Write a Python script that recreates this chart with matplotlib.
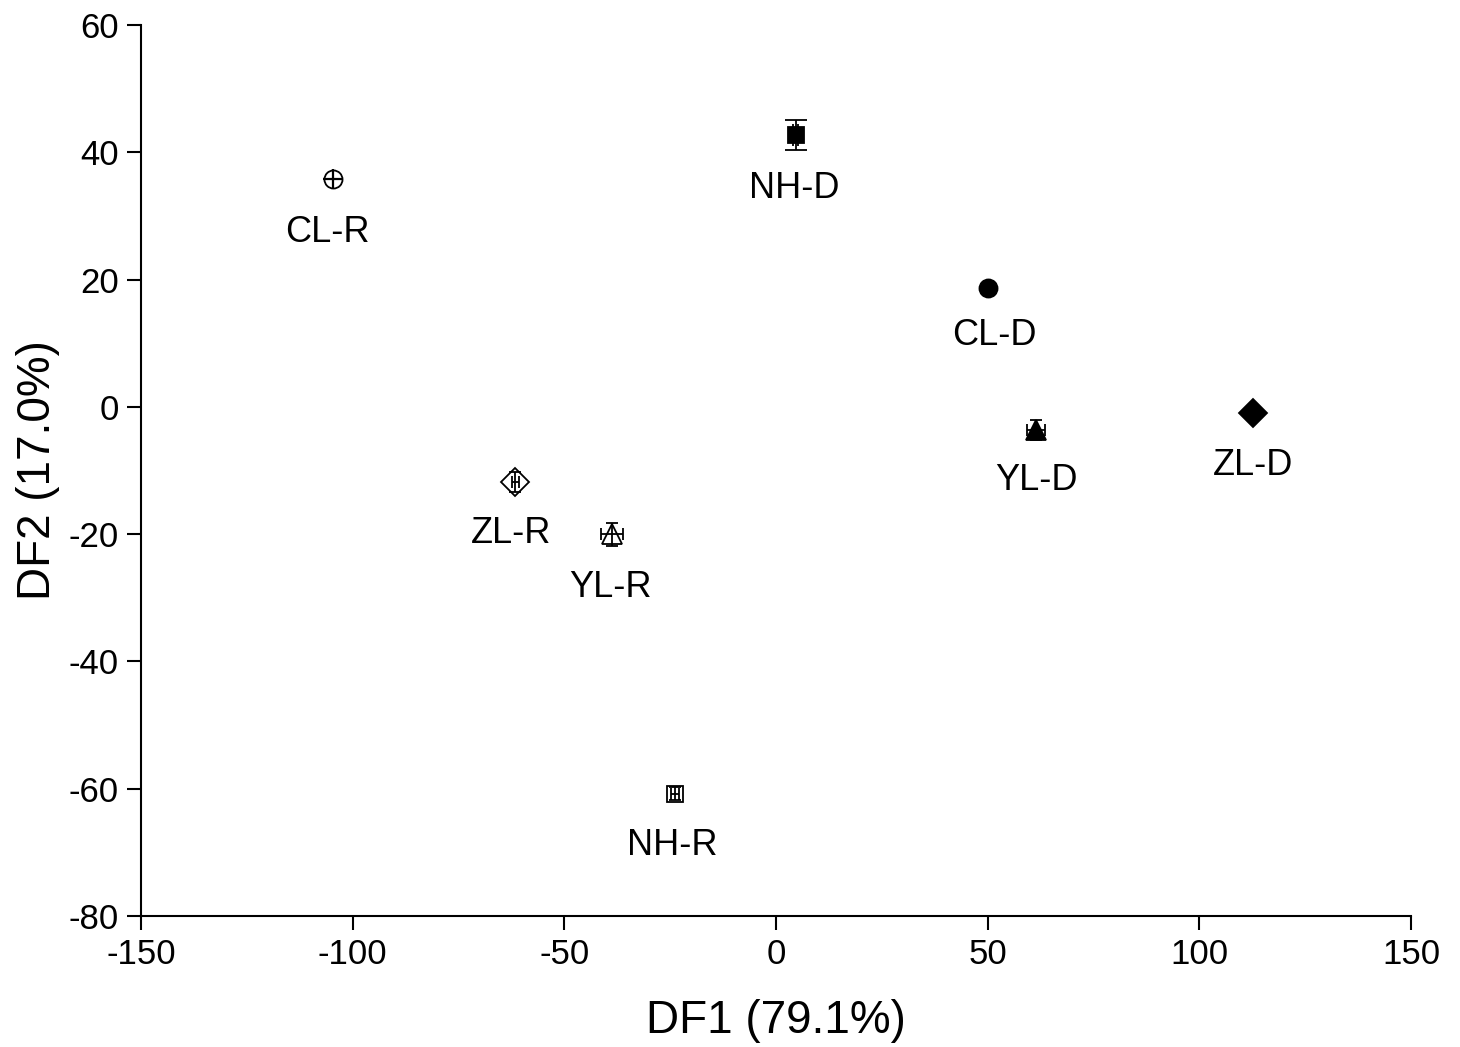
import matplotlib
matplotlib.use("Agg")
import matplotlib.pyplot as plt

plt.rcParams['font.family'] = ['Liberation Sans', 'DejaVu Sans']
plt.rcParams['axes.unicode_minus'] = False

labels = ["CL-R", "NH-D", "ZL-R", "YL-R", "NH-R", "CL-D", "YL-D", "ZL-D"]
df1 = [-104.6, 4.7, -61.6, -38.7, -23.9, 50.1, 61.4, 112.7]
df2 = [35.8, 42.7, -11.8, -20.0, -60.8, 18.7, -3.6, -1.0]
xerr = [0.0, 0.6, 0.8, 2.6, 1.0, 0.3, 2.2, 0.3]
yerr = [0.0, 2.3, 1.6, 1.8, 1.0, 0.3, 1.6, 0.3]
markers = ["o", "s", "D", "^", "s", "o", "^", "D"]
filled = [False, True, False, False, False, True, True, True]
msizes = [13, 12, 14, 15, 12, 13, 15, 14]
label_dx = [-6, -2, -4, -2, -3, 6, 1, 0]   # pixels
label_dy = [-53, -53, -52, -53, -52, -48, -51, -52]

fig = plt.figure(figsize=(14.6, 10.47), dpi=100)
ax = fig.add_axes([0.0966, 0.1251, 0.8698, 0.8510])

for i in range(len(labels)):
    fc = 'black' if filled[i] else 'none'
    ax.errorbar(df1[i], df2[i], xerr=xerr[i] if xerr[i] > 0 else None,
                yerr=yerr[i] if yerr[i] > 0 else None,
                fmt=markers[i], ms=msizes[i], mfc=fc, mec='black', mew=1.3,
                ecolor='black', elinewidth=1.3, capsize=8 if i == 1 else 4,
                capthick=1.3, zorder=3)
    if labels[i] == "CL-R":
        ax.plot(df1[i], df2[i], marker='+', ms=msizes[i] + 1, mew=1.6,
                color='black', zorder=4)
    ax.annotate(labels[i], (df1[i], df2[i]),
                xytext=(label_dx[i] * 0.72, label_dy[i] * 0.72),
                textcoords='offset points', ha='center', va='center',
                fontsize=26)

ax.set_xlim(-150, 150)
ax.set_ylim(-80, 60)
ax.set_xticks([-150, -100, -50, 0, 50, 100, 150])
ax.set_yticks([-80, -60, -40, -20, 0, 20, 40, 60])
ax.tick_params(direction='out', length=10, width=1.5, labelsize=25, pad=6)
ax.spines['top'].set_visible(False)
ax.spines['right'].set_visible(False)
ax.spines['left'].set_linewidth(1.5)
ax.spines['bottom'].set_linewidth(1.5)
ax.set_xlabel("DF1 (79.1%)", fontsize=33, labelpad=20)
ax.set_ylabel("DF2 (17.0%)", fontsize=33, labelpad=6)

fig.savefig("out.png", dpi=100)
